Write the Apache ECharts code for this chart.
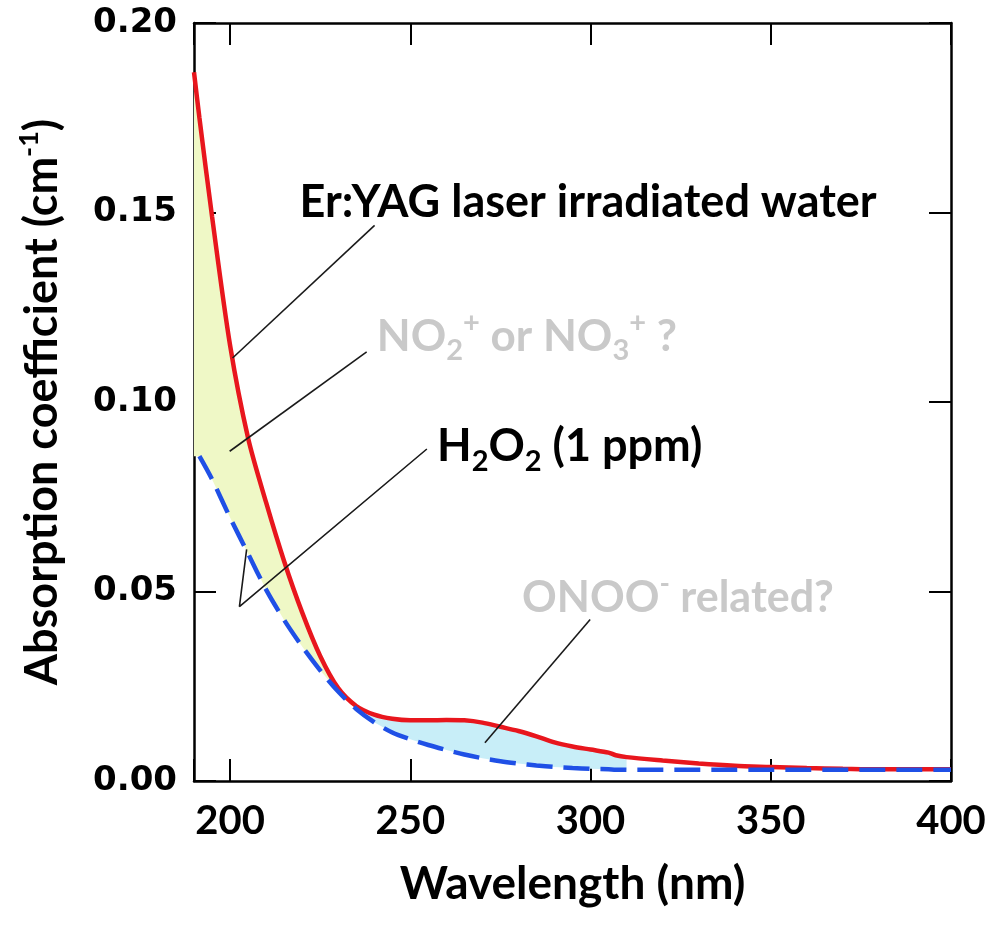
<!DOCTYPE html>
<html><head><meta charset="utf-8">
<script src="https://cdn.jsdelivr.net/npm/echarts@6/dist/echarts.min.js"></script>
<style>html,body{margin:0;padding:0;background:#fff}#c{width:992px;height:930px}</style>
</head><body><div id="c"></div>
<script>
// ---- data ----
const wavelengths = [190,191.5,195,200,205,210,215,220,225,230,235,240,245,250,255,260,265,270,275,280,285,290,295,300,305,307,310,320,330,340,350,360,370,380,390,400];
const irradiated = [0.187,0.175,0.149,0.115,0.0905,0.0735,0.058,0.0445,0.033,0.0245,0.0198,0.0175,0.0164,0.0160,0.0160,0.0161,0.0160,0.0154,0.0143,0.0132,0.0118,0.0102,0.0091,0.0083,0.0075,0.0068,0.0063,0.0054,0.0046,0.0040,0.0037,0.0034,0.0032,0.0031,0.0031,0.0031];
const h2o2 = [null,0.0857,0.0796,0.0695,0.060,0.0505,0.0425,0.0355,0.0292,0.0236,0.0190,0.0155,0.0128,0.0110,0.0095,0.0082,0.0070,0.0060,0.0052,0.0046,0.0041,0.0037,0.0034,0.0032,0.0031,0.0030,0.0030,0.0030,0.0030,0.0030,0.0030,0.0030,0.0030,0.0030,0.0030,0.0030];
const xTickLabels = [200,250,300,350,400];
const yTickLabels = [0,0.05,0.10,0.15,0.20];
const yellowRange = [190,235];
const cyanRange = [235,310];
// leader lines (data coords)
const leaderEr = [[200.7,0.1116],[240.1,0.1466]];
const leaderNO = [[199.9,0.0870],[237.9,0.1132]];
const leaderH2O2 = [[254.6,0.0876],[202.6,0.0460],[204.6,0.0611]];
const leaderONOO = [[270.7,0.0101],[299.9,0.0426]];
// annotation texts and anchors (left, vertical middle) in data coords
const annTexts = ['Er:YAG laser irradiated water', 'NO{sub|2}{sup|+} or NO{sub|3}{sup|+} ?', 'H{sub|2}O{sub|2} (1 ppm)', 'ONOO{sup|-} related?'];
const annAnchors = [[219.3,0.1526],[240.7,0.1172],[257.4,0.0883],[281.0,0.0483]];
const annColors = ['#000000','#c9c9c9','#000000','#c9c9c9'];
const annSizes = [45,44,45,43];

// ---- chart ----
const chart = echarts.init(document.getElementById('c'), null, {renderer:'canvas'});
const FONT = 'Lato, "Open Sans", sans-serif';
const axisLineStyle = {color:'#000', width:2.5};
const tickStyle = {inside:true, length:22, lineStyle:{color:'#000', width:2}};

function makeFill(range, color){
  return {
    type:'custom', coordinateSystem:'cartesian2d', silent:true, z:1,
    data:[[range[0], 0]],
    renderItem:function(params, api){
      const top = [], bottom = [];
      const firstBlue = h2o2.find(v => v != null);
      for (let i=0;i<wavelengths.length;i++){
        const x = wavelengths[i];
        if (x < range[0] || x > range[1]) continue;
        top.push(api.coord([x, irradiated[i]]));
        bottom.push(api.coord([x, h2o2[i] == null ? firstBlue : h2o2[i]]));
      }
      return {type:'polygon', shape:{points: top.concat(bottom.reverse())}, style:{fill:color}};
    }
  };
}
function leader(pts){
  return {type:'line', data:pts, symbol:'none', silent:true, z:4, smooth:false,
    lineStyle:{color:'#1a1a1a', width:1.6}};
}

const option = {
  backgroundColor:'#fff',
  animation:false,
  grid:{left:194, right:41, top:23, bottom:149, outerBoundsMode:'none'},
  xAxis:[
    {type:'value', min:190, max:400, splitNumber:5, position:'bottom',
     axisLine:{show:true, onZero:false, lineStyle:axisLineStyle},
     axisTick:tickStyle, splitLine:{show:false},
     axisLabel:{margin:20, color:'#000', fontSize:40, fontWeight:'bold', fontFamily:FONT,
       formatter: v => xTickLabels.includes(v) ? String(v) : ''},
     name:'Wavelength (nm)', nameLocation:'middle', nameGap:80,
     nameTextStyle:{fontSize:46, fontWeight:'bold', color:'#000', fontFamily:FONT}},
    {type:'value', min:190, max:400, splitNumber:5, position:'top',
     axisLine:{show:true, onZero:false, lineStyle:axisLineStyle},
     axisTick:tickStyle, splitLine:{show:false}, axisLabel:{show:false}}
  ],
  yAxis:[
    {type:'value', min:0, max:0.2, interval:0.05, position:'left',
     axisLine:{show:true, onZero:false, lineStyle:axisLineStyle},
     axisTick:tickStyle, splitLine:{show:false},
     axisLabel:{margin:17, color:'#000', fontSize:34, fontWeight:'bold', fontFamily:'"DejaVu Sans", Verdana, sans-serif',
       formatter: v => { const m = yTickLabels.find(t => Math.abs(t - v) < 1e-9); return m === undefined ? '' : m.toFixed(2); }},
     name:'Absorption coefficient (cm{sup|-1})', nameLocation:'middle', nameRotate:90, nameGap:126,
     nameTextStyle:{fontSize:45, fontWeight:'bold', color:'#000', fontFamily:FONT, lineHeight:52,
       rich:{sup:{fontSize:27, fontWeight:'bold', color:'#000', fontFamily:FONT, verticalAlign:'top', lineHeight:24}}}},
    {type:'value', min:0, max:0.2, interval:0.05, position:'right',
     axisLine:{show:true, onZero:false, lineStyle:axisLineStyle},
     axisTick:tickStyle, splitLine:{show:false}, axisLabel:{show:false}}
  ],
  series:[
    makeFill(yellowRange, '#eff8c6'),
    makeFill(cyanRange, '#c8eef8'),
    {name:'Er:YAG laser irradiated water', type:'line', z:3, symbol:'none', smooth:0.3, silent:true,
     data: wavelengths.map((x,i) => [x, irradiated[i]]),
     lineStyle:{color:'#e8161d', width:4.5}},
    {name:'H2O2 (1 ppm)', type:'line', z:3, symbol:'none', smooth:0.3, silent:true,
     data: wavelengths.map((x,i) => [x, h2o2[i]]),
     lineStyle:{color:'#1f50e6', width:4.5, type:[26,11]}},
    leader(leaderEr), leader(leaderNO), leader(leaderH2O2), leader(leaderONOO)
  ]
};
chart.setOption(option);

const graphics = annTexts.map((t, i) => {
  const p = chart.convertToPixel({gridIndex:0}, annAnchors[i]);
  const s = annSizes[i];
  return {type:'text', x:p[0], y:p[1], z:10, silent:true,
    style:{text:t, fill:annColors[i], fontSize:s, fontWeight:'bold', fontFamily:FONT,
      lineHeight:Math.round(s*1.3), align:'left', verticalAlign:'middle',
      rich:{
        sub:{fontSize:Math.round(s*0.65), fontWeight:'bold', fontFamily:FONT, fill:annColors[i], verticalAlign:'bottom', lineHeight:14},
        sup:{fontSize:Math.round(s*0.65), fontWeight:'bold', fontFamily:FONT, fill:annColors[i], verticalAlign:'top', lineHeight:24}
      }}};
});
chart.setOption({graphic: graphics});
</script>
</body></html>
